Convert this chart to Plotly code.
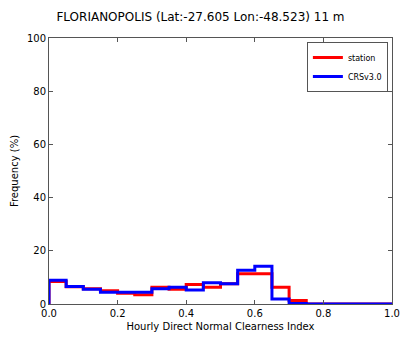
import plotly.graph_objects as go

bin_edges = [round(0.05 * i, 2) for i in range(21)]
station = [8.5, 6.5, 5.7, 5.0, 4.0, 3.5, 6.3, 5.5, 7.3, 6.3, 7.6, 11.4, 11.4, 6.3, 1.3, 0, 0, 0, 0, 0]
crs = [8.9, 6.6, 5.5, 4.4, 4.4, 4.4, 5.7, 6.3, 5.3, 8.0, 7.6, 12.7, 14.2, 1.9, 0.2, 0, 0, 0, 0, 0]
x_ticks = [0.0, 0.2, 0.4, 0.6, 0.8, 1.0]
y_ticks = [0, 20, 40, 60, 80, 100]


def step(vals):
    xs = [bin_edges[0]] + bin_edges
    ys = [0] + vals + [0]
    return xs, ys


fig = go.Figure()
for name, vals, color in [("station", station, "#ff0000"), ("CRSv3.0", crs, "#0000ff")]:
    xs, ys = step(vals)
    fig.add_trace(go.Scatter(x=xs, y=ys, mode="lines", name=name, cliponaxis=False,
                             line=dict(color=color, width=3, shape="hv")))

axis_common = dict(showgrid=False, zeroline=False, showline=True, linecolor="#555555",
                   linewidth=1, mirror="allticks", ticks="inside", ticklen=4,
                   tickcolor="#555555", tickfont=dict(size=10, color="black"),
                   automargin=False)
fig.update_layout(
    width=401, height=337,
    margin=dict(l=49, r=9, t=38, b=33, autoexpand=False),
    paper_bgcolor="white", plot_bgcolor="white",
    font=dict(family="DejaVu Sans", color="black"),
    title=dict(text="FLORIANOPOLIS (Lat:-27.605 Lon:-48.523) 11 m", x=0.5, xanchor="center",
               y=0.95, yanchor="middle", font=dict(size=12)),
    xaxis=dict(range=[0, 1], tickvals=x_ticks, ticktext=[f"{v:.1f}" for v in x_ticks],
               title=dict(text="Hourly Direct Normal Clearness Index", font=dict(size=10), standoff=4),
               **axis_common),
    yaxis=dict(range=[0, 100], tickvals=y_ticks,
               title=dict(text="Frequency (%)", font=dict(size=10), standoff=6),
               **axis_common),
    legend=dict(x=0.988, y=0.985, xanchor="right", yanchor="top", bgcolor="white",
                bordercolor="#555555", borderwidth=1, font=dict(size=8),
                itemwidth=30, tracegroupgap=0),
    showlegend=True,
)
fig.write_html("out.html", config={"displayModeBar": False},
               post_script="document.body.style.margin='0px';document.body.style.overflow='hidden';")
